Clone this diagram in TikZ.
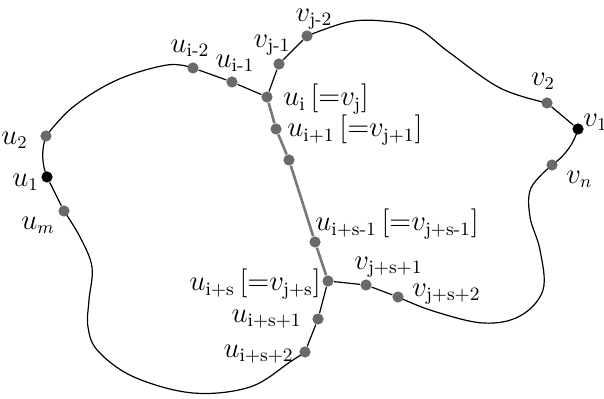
\documentclass[tikz,border=0pt]{standalone}
\usepackage{amsmath}
\usetikzlibrary{backgrounds}
\definecolor{vgray}{RGB}{105,105,105}
\definecolor{cgray}{RGB}{120,120,120}
\newcommand{\sbt}[1]{_{\text{#1}}}
\newcommand{\eqv}{[{=}}
\begin{document}
\begin{tikzpicture}[x=0.5pt,y=-0.5pt,
  vtx/.style={circle, fill=vgray, inner sep=0pt, minimum size=5.6pt},
  bvtx/.style={circle, fill=black, inner sep=0pt, minimum size=5.6pt},
  edge/.style={line width=0.6pt},
  chord/.style={line width=1.3pt, draw=cgray},
  lbl/.style={font=\fontsize{13.5}{16}\selectfont, inner sep=0pt}]
\useasboundingbox (0,0) rectangle (604,399);
% vertices
\node[vtx]  (u2)   at (46,136) {};
\node[bvtx] (u1)   at (47,177) {};
\node[vtx]  (um)   at (64,211) {};
\node[vtx]  (ui2)  at (193,68) {};
\node[vtx]  (ui1)  at (232,82) {};
\node[vtx]  (vj1)  at (279,64) {};
\node[vtx]  (vj2)  at (307,36) {};
\node[vtx]  (ui)   at (267,97) {};
\node[vtx]  (uip)  at (276,129) {};
\node[vtx]  (umid) at (289,160) {};
\node[vtx]  (uis1) at (315,242) {};
\node[vtx]  (uis)  at (328,281) {};
\node[vtx]  (vs1)  at (366,285) {};
\node[vtx]  (vs2)  at (398,297) {};
\node[vtx]  (uisa) at (318,319) {};
\node[vtx]  (uisb) at (305,352) {};
\node[vtx]  (v2)   at (547,103) {};
\node[bvtx] (v1)   at (578,129) {};
\node[vtx]  (vn)   at (552,165) {};
% waypoints
\coordinate (a1) at (73,107);
\coordinate (a2) at (117,80);
\coordinate (a3) at (167,65);
\coordinate (b1) at (80,237);
\coordinate (b2) at (92,267);
\coordinate (b3) at (89,300);
\coordinate (b4) at (88,327);
\coordinate (b5) at (98,351);
\coordinate (b6) at (134,377);
\coordinate (b7) at (193,393);
\coordinate (b8) at (250,387);
\coordinate (b9) at (290,362);
\coordinate (c1) at (433,311);
\coordinate (c2) at (483,323);
\coordinate (c3) at (520,316);
\coordinate (c4) at (543,290);
\coordinate (c5) at (540,250);
\coordinate (c6) at (530,217);
\coordinate (c7) at (531,188);
\coordinate (d1) at (500,88);
\coordinate (d2) at (450,53);
\coordinate (d3) at (417,28);
\coordinate (d4) at (383,21);
\coordinate (d5) at (348,22);
\begin{pgfonlayer}{background}
\draw[edge] plot[smooth, tension=0.6] coordinates {(ui2) (a3) (a2) (a1) (u2)};
\draw[edge] (u2.center) .. controls (41,150) and (42,165) .. (u1.center);
\draw[edge] (u1) -- (um);
\draw[edge] plot[smooth, tension=0.6] coordinates {(um) (b1) (b2) (b3) (b4) (b5) (b6) (b7) (b8) (b9) (uisb)};
\draw[edge] (uisb) -- (uisa) -- (uis);
\draw[edge] (uis) -- (vs1) -- (vs2);
\draw[edge] plot[smooth, tension=0.6] coordinates {(vs2) (c1) (c2) (c3) (c4) (c5) (c6) (c7) (vn)};
\draw[edge] (vn.center) .. controls (566,155) and (574,143) .. (v1.center);
\draw[edge] (v1) -- (v2);
\draw[edge] plot[smooth, tension=0.6] coordinates {(v2) (d1) (d2) (d3) (d4) (d5) (vj2)};
\draw[edge] (vj2) -- (vj1) -- (ui);
\draw[edge] (ui2) -- (ui1) -- (ui);
\draw[chord] (ui) -- (uip) -- (umid) -- (uis1) -- (uis);
\end{pgfonlayer}
% labels
\node[lbl, anchor=east] (lu2) at (28,140) {$u_2$};
\node[lbl, anchor=east] (lu1) at (39,182) {$u_1$};
\node[lbl, anchor=east] (lum) at (55,225) {$u_m$};
\node[lbl] (lui2) at (190,48) {$u\sbt{i-2}$};
\node[lbl] (lui1) at (235,63) {$u\sbt{i-1}$};
\node[lbl] (lvj1) at (272,45) {$v\sbt{j-1}$};
\node[lbl] (lvj2) at (314,19) {$v\sbt{j-2}$};
\node[lbl, anchor=west] (lui) at (283,99) {$u\sbt{i}\,\eqv v\sbt{j}]$};
\node[lbl, anchor=west] (luip) at (287,130) {$u\sbt{i+1}\,\eqv v\sbt{j+1}]$};
\node[lbl, anchor=west] (luis1) at (315,224) {$u\sbt{i+s-1}\,\eqv v\sbt{j+s-1}]$};
\node[lbl, anchor=east] (luis) at (321,284) {$u\sbt{i+s}\,\eqv v\sbt{j+s}]$};
\node[lbl, anchor=west] (lvs1) at (354,267) {$v\sbt{j+s+1}$};
\node[lbl, anchor=west] (lvs2) at (412,294) {$v\sbt{j+s+2}$};
\node[lbl, anchor=east] (luisa) at (302,319) {$u\sbt{i+s+1}$};
\node[lbl, anchor=east] (luisb) at (294,354) {$u\sbt{i+s+2}$};
\node[lbl] (lv2) at (543,81) {$v_2$};
\node[lbl, anchor=west] (lv1) at (583,122) {$v_1$};
\node[lbl, anchor=west] (lvn) at (566,179) {$v_n$};
\end{tikzpicture}
\end{document}
